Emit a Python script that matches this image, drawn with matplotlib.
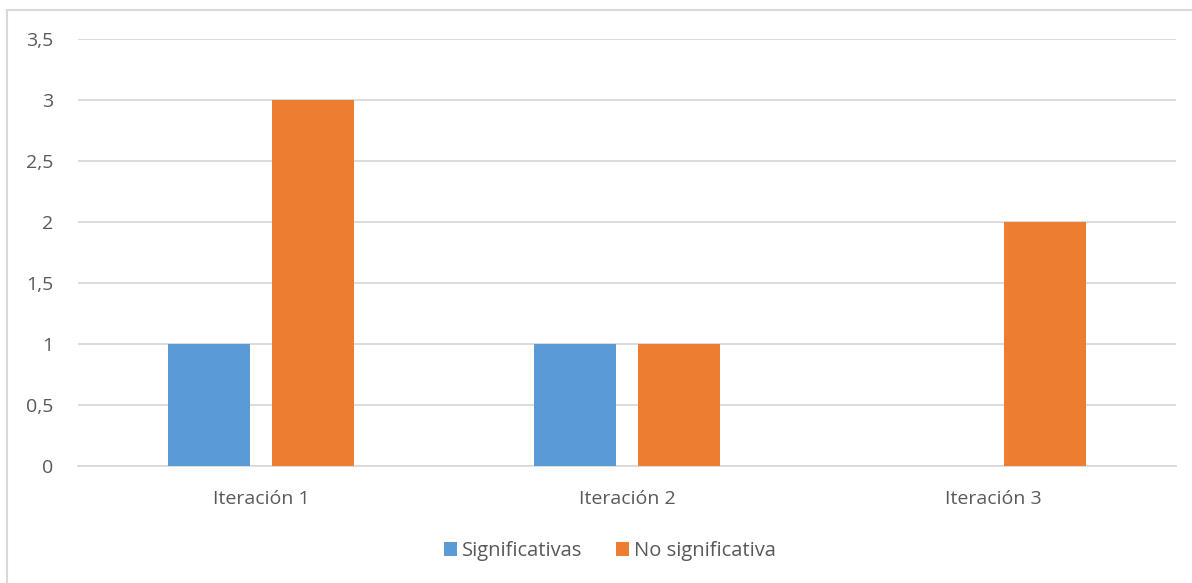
import matplotlib.pyplot as plt
import numpy as np
from matplotlib.patches import Rectangle

categories = ["Iteración 1", "Iteración 2", "Iteración 3"]
series_names = ["Significativas", "No significativa"]
significativas = [1, 1, 0]
no_significativa = [3, 1, 2]
y_ticks = [0, 0.5, 1, 1.5, 2, 2.5, 3, 3.5]
y_tick_labels = ["0", "0,5", "1", "1,5", "2", "2,5", "3", "3,5"]

blue = "#5B9BD5"
orange = "#ED7D31"
text_color = "#595959"
grid_color = "#D9D9D9"

plt.rcParams['font.family'] = ['Open Sans', 'DejaVu Sans']

fig = plt.figure(figsize=(11.92, 5.83), dpi=100)
ax = fig.add_axes([78/1192, 1 - 466/583, 1098/1192, 427/583])

x = np.arange(len(categories))
w = 0.224
off = 0.142
ax.bar(x - off, significativas, width=w, color=blue, label=series_names[0], zorder=3)
ax.bar(x + off, no_significativa, width=w, color=orange, label=series_names[1], zorder=3)

ax.set_xlim(-0.5, 2.5)
ax.set_ylim(0, 3.5)
ax.set_yticks(y_ticks)
ax.set_yticklabels(y_tick_labels)
ax.set_xticks(x)
ax.set_xticklabels(categories)
ax.yaxis.grid(True, color=grid_color, linewidth=1.3, zorder=0)
ax.set_axisbelow(True)
for s in ["top", "right", "left"]:
    ax.spines[s].set_visible(False)
ax.spines["bottom"].set_color(grid_color)
ax.spines["bottom"].set_linewidth(1.3)
ax.tick_params(axis="both", length=0, labelsize=14, colors=text_color)
ax.tick_params(axis="y", pad=18)
ax.tick_params(axis="x", pad=17)

leg = fig.legend(loc="center", bbox_to_anchor=(610/1192, 1 - 551/583), ncol=2,
                 frameon=False, fontsize=14.5, handlelength=0.65, handleheight=0.65,
                 handletextpad=0.25, columnspacing=1.7)
for t in leg.get_texts():
    t.set_color(text_color)

fig.patches.append(Rectangle((7/1192, -0.1), 1.2, 1 - 10/583 + 0.1, transform=fig.transFigure,
                             fill=False, edgecolor="#D9D9D9", linewidth=1.5))

fig.savefig("out.png", dpi=100)
